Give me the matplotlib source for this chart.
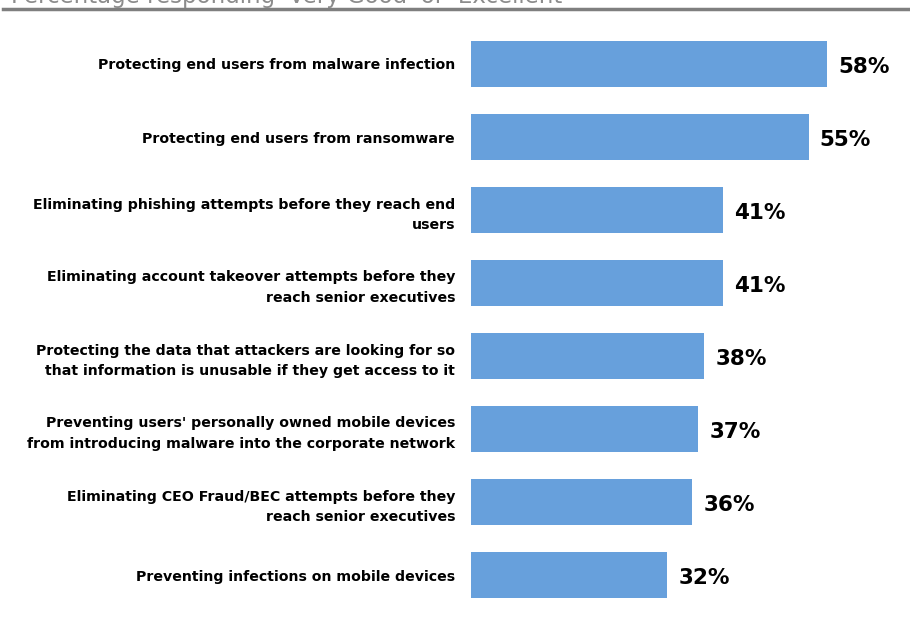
import matplotlib.pyplot as plt
from matplotlib.lines import Line2D

categories = [
    "Protecting end users from malware infection",
    "Protecting end users from ransomware",
    "Eliminating phishing attempts before they reach end\nusers",
    "Eliminating account takeover attempts before they\nreach senior executives",
    "Protecting the data that attackers are looking for so\nthat information is unusable if they get access to it",
    "Preventing users' personally owned mobile devices\nfrom introducing malware into the corporate network",
    "Eliminating CEO Fraud/BEC attempts before they\nreach senior executives",
    "Preventing infections on mobile devices",
]
values = [58, 55, 41, 41, 38, 37, 36, 32]

bar_color = "#67A0DC"

fig = plt.figure(figsize=(9.1, 6.24), dpi=100)
ax = fig.add_axes([471 / 910, 12.5 / 624, 439 / 910, 584 / 624])

ypos = list(range(len(values)))
ax.barh(ypos, values, height=0.62, color=bar_color)
ax.set_xlim(0, 71.5)
ax.set_ylim(7.5, -0.5)

for y, v in zip(ypos, values):
    ax.annotate(f"{v}%", xy=(v, y), xytext=(8, -2), textcoords="offset points",
                ha="left", va="center", fontsize=15.5, fontweight="bold", color="black")

ax.set_yticks(ypos)
ax.set_yticklabels(categories, fontsize=10.2, fontweight="bold", linespacing=1.6)
ax.tick_params(axis="y", length=0, pad=11.5)
ax.set_xticks([])
for s in ax.spines.values():
    s.set_visible(False)

# clipped header from the source page
fig.text(0.012, 1 - 3 / 624, "Percentage responding 'Very Good' or 'Excellent'",
         fontsize=16.5, color="#8c8c8c", ha="left", va="baseline")
fig.add_artist(Line2D([3 / 910, 1.0], [1 - 9 / 624, 1 - 9 / 624],
                      color="#7f7f7f", linewidth=2.5, transform=fig.transFigure))

fig.savefig("out.png", dpi=100)
